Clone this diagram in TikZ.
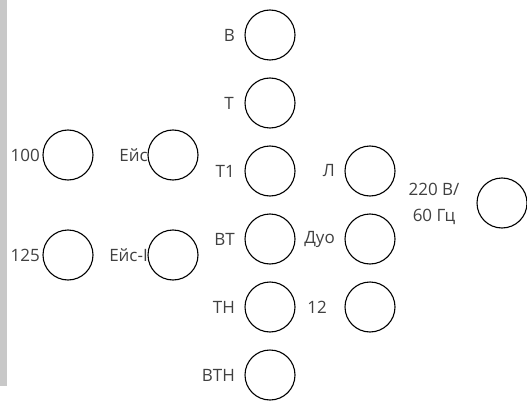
\documentclass[tikz,border=0pt]{standalone}
\usepackage{fontspec}
\setmainfont{Open Sans}
\begin{document}
\begin{tikzpicture}[x=1pt,y=-1pt,
  knob/.style={draw=black,line width=1.1pt,circle,minimum size=50pt,inner sep=0pt},
  lbl/.style={text=txtgray,inner sep=0pt,anchor=east,font=\fontsize{17}{26}\selectfont},
  clbl/.style={text=txtgray,inner sep=0pt,align=center,font=\fontsize{17}{26}\selectfont}]
\definecolor{txtgray}{HTML}{404040}
\definecolor{bargray}{HTML}{C8C8C8}
\useasboundingbox (0,0) rectangle (527,401);
\fill[bargray] (0,0) rectangle (7,386);
% centre column
\node[knob] (kv) at (270,35) {};
\node[knob] (kt) at (270,103) {};
\node[knob] (kt1) at (270,171) {};
\node[knob] (kvt) at (270,239) {};
\node[knob] (ktn) at (270,307) {};
\node[knob] (kvtn) at (270,375) {};
\node[lbl] (lv) at (235,35) {В};
\node[lbl] (lt) at (234,103) {Т};
\node[lbl] (lt1) at (235,171) {Т1};
\node[lbl] (lvt) at (235,239) {ВТ};
\node[lbl] (ltn) at (235,307) {ТН};
\node[lbl] (lvtn) at (235,375) {ВТН};
% right column
\node[knob] (kl) at (370,171) {};
\node[knob] (kduo) at (370,239) {};
\node[knob] (k12) at (370,307) {};
\node[lbl] (ll) at (335,171) {Л};
\node[lbl] (lduo) at (335,239) {Дуо};
\node[lbl] (l12) at (327,307) {12};
% left columns
\node[knob] (k100) at (68,155) {};
\node[knob] (k125) at (68,255) {};
\node[knob] (keis) at (173,155) {};
\node[knob] (keisi) at (173,255) {};
\node[lbl] (l100) at (40,155) {100};
\node[lbl] (l125) at (40,255) {125};
\node[lbl] (leis) at (148,155) {Ейс};
\node[lbl] (leisi) at (148,255) {Ейс-I};
% far right
\node[knob] (kpow) at (502,203) {};
\node[clbl] (lpow) at (434,204) {220 В/\\60 Гц};
\end{tikzpicture}
\end{document}
